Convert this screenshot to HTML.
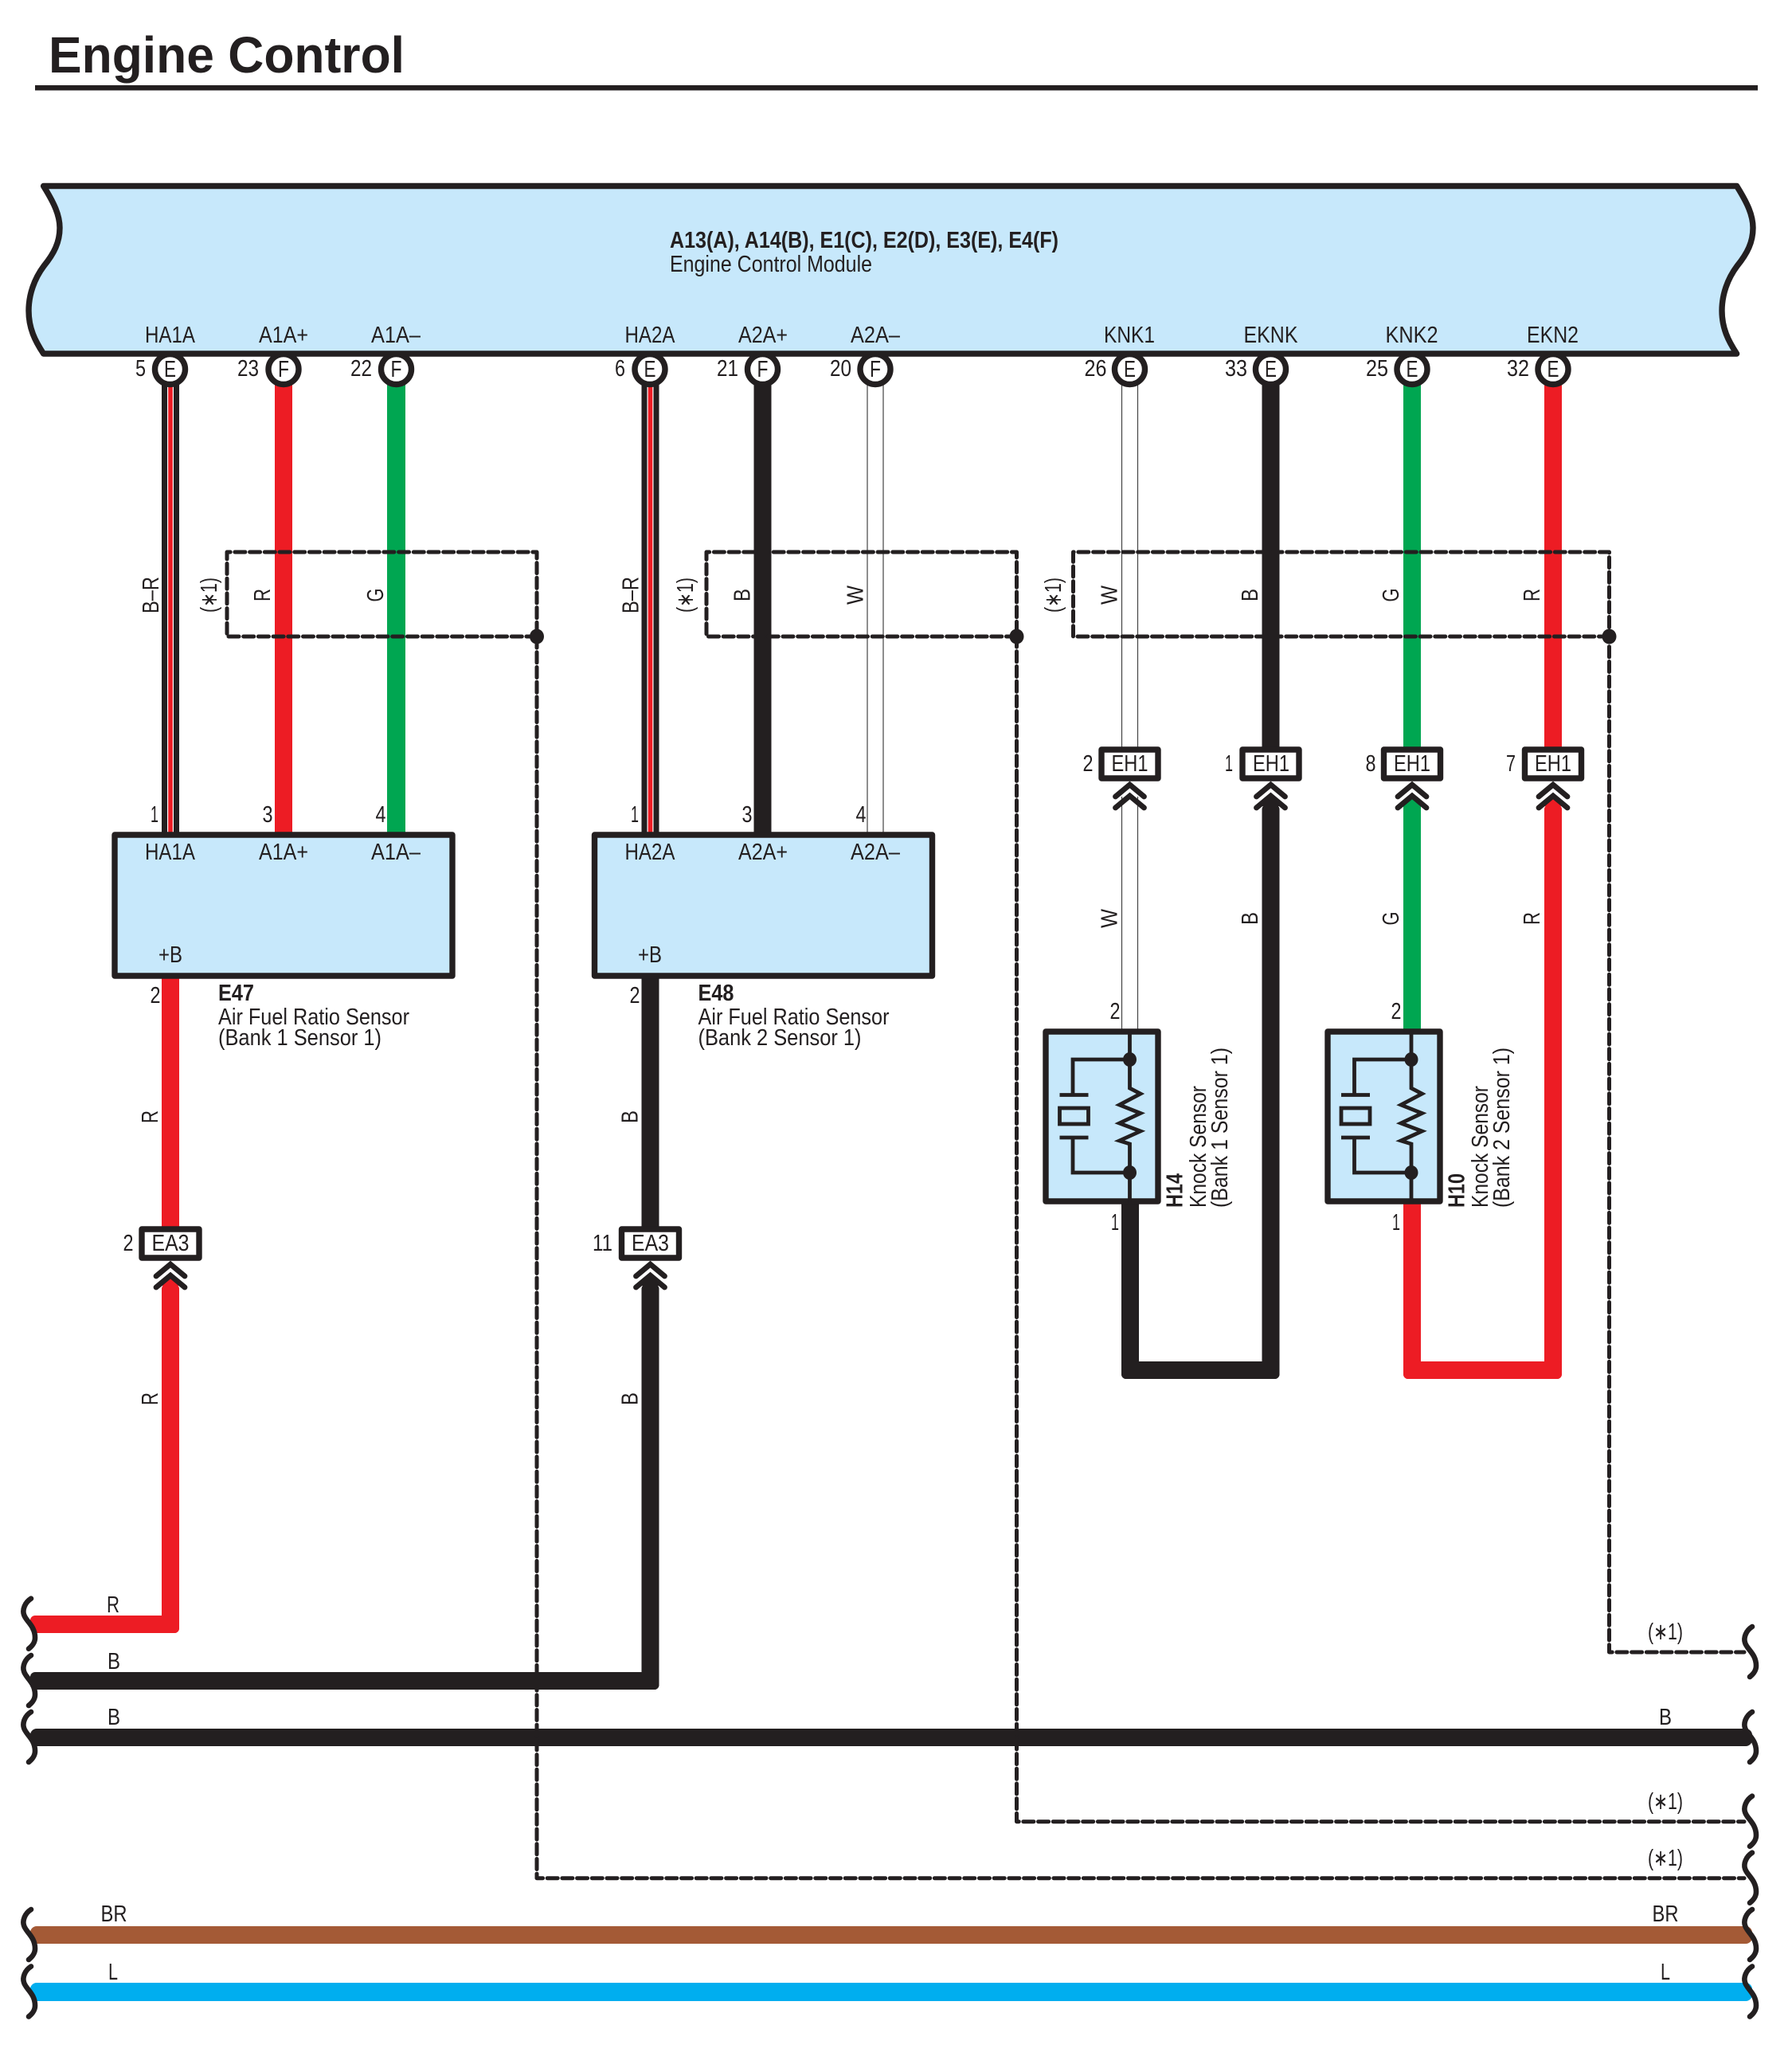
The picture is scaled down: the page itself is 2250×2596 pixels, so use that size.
<!DOCTYPE html>
<html><head><meta charset="utf-8"><title>Engine Control</title>
<style>
html,body{margin:0;padding:0;background:#fff}
svg{display:block}
text{font-family:"Liberation Sans",sans-serif;font-size:29px;fill:#231f20}
.b{font-weight:bold}
.m{text-anchor:middle}
.e{text-anchor:end}
.d{fill:none;stroke:#231f20;stroke-width:5;stroke-dasharray:13 5.7;stroke-linecap:round;stroke-linejoin:round}
.s{fill:none;stroke:#231f20;stroke-width:6.6;stroke-linecap:round}
.w{fill:none;stroke:#444;stroke-width:1.2}
.i{fill:none;stroke:#231f20;stroke-width:4.8}
.c{fill:#fff;stroke:#231f20;stroke-width:7.4}
.x{fill:#fff;stroke:#231f20;stroke-width:7.4;stroke-linejoin:round}
.h{fill:none;stroke:#231f20;stroke-width:6.8;stroke-linejoin:miter;stroke-linecap:round}
.bx{fill:#c7e8fb;stroke:#231f20;stroke-width:7.4;stroke-linejoin:round}
</style></head><body>
<svg xmlns="http://www.w3.org/2000/svg" width="2250" height="2596" viewBox="0 0 2250 2596">
<defs>
<path id="sq" class="s" d="M39,-32 C31,-27 28,-18 30,-12 C32,-4 44,2 44,17 C44,23 41,27 36,31"/>
<g id="chev"><path class="h" d="M-18,20 L0,5 L18,20"/><path class="h" d="M-18,34 L0,19 L18,34"/></g>
<g id="knock">
<path class="i" d="M0,1292 V1366 L13.5,1373 L-13,1387 L13.5,1397.5 L-13,1410 L13.5,1420 L-13,1432 L0,1436 V1511"/>
<path class="i" d="M0,1330 H-71.5 V1374.5 M-88,1374.5 H-52 M-71.5,1428 V1472 H0 M-88,1428 H-52"/>
<rect class="i" x="-88" y="1391" width="36" height="20"/>
<ellipse cx="0" cy="1330" rx="8.5" ry="9" fill="#231f20"/>
<ellipse cx="0" cy="1472" rx="8.5" ry="9" fill="#231f20"/>
</g>
</defs>

<!-- Title -->
<text class="b" x="61" y="91" style="font-size:64px" textLength="447" lengthAdjust="spacingAndGlyphs">Engine Control</text>
<rect x="44" y="107" width="2163" height="6.5" fill="#231f20"/>

<!-- Upper wires -->
<rect x="203" y="470" width="22" height="576" fill="#231f20"/>
<rect x="210" y="470" width="8" height="576" fill="#fff"/>
<rect x="211.2" y="470" width="5.6" height="576" fill="#ed1c24"/>
<rect x="345" y="470" width="22" height="576" fill="#ed1c24"/>
<rect x="486" y="470" width="23" height="576" fill="#00a651"/>

<rect x="805.5" y="470" width="22" height="576" fill="#231f20"/>
<rect x="812.5" y="470" width="8" height="576" fill="#fff"/>
<rect x="813.7" y="470" width="5.6" height="576" fill="#ed1c24"/>
<rect x="946.5" y="470" width="22" height="576" fill="#231f20"/>
<path class="w" d="M1089,480 V1046 M1109,480 V1046"/>

<path class="w" d="M1408.5,480 V940 M1428.5,480 V940"/>
<rect x="1584.5" y="470" width="22" height="470" fill="#231f20"/>
<rect x="1762" y="470" width="22" height="470" fill="#00a651"/>
<rect x="1939" y="470" width="22" height="470" fill="#ed1c24"/>

<!-- Mid wires H14/H10 -->
<path class="w" d="M1408.5,1000 V1294 M1428.5,1000 V1294"/>
<rect x="1762" y="1010" width="22" height="285" fill="#00a651"/>
<polygon points="1762,1012 1773,999 1784,1012" fill="#00a651"/>
<rect x="1584.5" y="1010" width="22" height="721" rx="6" fill="#231f20"/>
<polygon points="1584.5,1012 1595.5,999 1606.5,1012" fill="#231f20"/>
<rect x="1939" y="1010" width="22" height="721" rx="6" fill="#ed1c24"/>
<polygon points="1939,1012 1950,999 1961,1012" fill="#ed1c24"/>
<rect x="1408" y="1505" width="22" height="226" rx="6" fill="#231f20"/>
<rect x="1408" y="1709" width="198.5" height="22" rx="6" fill="#231f20"/>
<rect x="1762" y="1505" width="22" height="226" rx="6" fill="#ed1c24"/>
<rect x="1762" y="1709" width="199" height="22" rx="6" fill="#ed1c24"/>

<!-- Lower wires E47 / E48 -->
<rect x="203" y="1225" width="22" height="318" fill="#ed1c24"/>
<rect x="805.5" y="1225" width="22" height="318" fill="#231f20"/>
<rect x="203" y="1612" width="22" height="438" rx="6" fill="#ed1c24"/>
<polygon points="203,1614 214,1601 225,1614" fill="#ed1c24"/>
<rect x="38" y="2028" width="187" height="22" rx="6" fill="#ed1c24"/>
<rect x="805.5" y="1612" width="22" height="509" rx="6" fill="#231f20"/>
<polygon points="805.5,1614 816.5,1601 827.5,1614" fill="#231f20"/>
<rect x="38" y="2099" width="789.5" height="22" rx="6" fill="#231f20"/>
<rect x="38" y="2170" width="2162" height="22" rx="8" fill="#231f20"/>
<rect x="38" y="2418" width="2162" height="22" rx="8" fill="#a45a36"/>
<rect x="38" y="2489" width="2162" height="23" rx="8" fill="#00aeef"/>

<!-- Pin circles -->
<circle class="c" cx="213.5" cy="463.5" r="19"/>
<circle class="c" cx="356" cy="463.5" r="19"/>
<circle class="c" cx="497.5" cy="463.5" r="19"/>
<circle class="c" cx="816" cy="463.5" r="19"/>
<circle class="c" cx="957.5" cy="463.5" r="19"/>
<circle class="c" cx="1099" cy="463.5" r="19"/>
<circle class="c" cx="1418.5" cy="463.5" r="19"/>
<circle class="c" cx="1595.5" cy="463.5" r="19"/>
<circle class="c" cx="1773" cy="463.5" r="19"/>
<circle class="c" cx="1950" cy="463.5" r="19"/>

<!-- ECU box -->
<path class="bx" d="M54.6,233.5 C68,255 75,270 75,286 C75,304 68,318 55,334 C43,350 36,370 36,390 C36,412 44,428 54.6,444 L2180.6,444 C2170,428 2162,412 2162,390 C2162,370 2169,350 2181,334 C2194,318 2201,304 2201,286 C2201,270 2194,255 2180.6,233.5 Z"/>

<!-- Sensor boxes -->
<rect class="bx" x="144" y="1048" width="424" height="177"/>
<rect class="bx" x="746.5" y="1048" width="424" height="177"/>
<rect class="bx" x="1313" y="1295" width="141" height="213"/>
<rect class="bx" x="1667" y="1295" width="141" height="213"/>
<use href="#knock" x="1418.5"/>
<use href="#knock" x="1772"/>

<!-- Connectors -->
<rect class="x" x="178" y="1543" width="72" height="36"/>
<rect class="x" x="780.5" y="1543" width="72" height="36"/>
<rect class="x" x="1383" y="941" width="71" height="36"/>
<rect class="x" x="1560" y="941" width="71" height="36"/>
<rect class="x" x="1737.5" y="941" width="71" height="36"/>
<rect class="x" x="1914.5" y="941" width="71" height="36"/>
<use href="#chev" x="214" y="1582"/>
<use href="#chev" x="816.5" y="1582"/>
<use href="#chev" x="1418.5" y="980"/>
<use href="#chev" x="1595.5" y="980"/>
<use href="#chev" x="1773" y="980"/>
<use href="#chev" x="1950" y="980"/>

<!-- Dashed shields -->
<path class="d" d="M674,799 H285 V693 H674 V2357.7 H2190"/>
<path class="d" d="M1276.5,799 H887 V693 H1276.5 V2286.7 H2190"/>
<path class="d" d="M2020.5,799 H1347.5 V693 H2020.5 V2074 H2190"/>
<ellipse cx="674" cy="799" rx="9" ry="9.5" fill="#231f20"/>
<ellipse cx="1276.5" cy="799" rx="9" ry="9.5" fill="#231f20"/>
<ellipse cx="2020.5" cy="799" rx="9" ry="9.5" fill="#231f20"/>

<!-- Squiggles -->
<use href="#sq" x="0" y="2038.7"/>
<use href="#sq" x="0" y="2110"/>
<use href="#sq" x="0" y="2181"/>
<use href="#sq" x="0" y="2429"/>
<use href="#sq" x="0" y="2500.5"/>
<use href="#sq" x="2161" y="2074"/>
<use href="#sq" x="2161" y="2181"/>
<use href="#sq" x="2161" y="2286.7"/>
<use href="#sq" x="2161" y="2357.7"/>
<use href="#sq" x="2161" y="2429"/>
<use href="#sq" x="2161" y="2500.5"/>

<!-- ECU text -->
<text class="b" x="841" y="311" textLength="488" lengthAdjust="spacingAndGlyphs">A13(A), A14(B), E1(C), E2(D), E3(E), E4(F)</text>
<text x="841" y="341" textLength="254" lengthAdjust="spacingAndGlyphs">Engine Control Module</text>

<text class="m" x="213.5" y="430" textLength="63" lengthAdjust="spacingAndGlyphs">HA1A</text>
<text class="m" x="356" y="430" textLength="62" lengthAdjust="spacingAndGlyphs">A1A+</text>
<text class="m" x="497" y="430" textLength="62" lengthAdjust="spacingAndGlyphs">A1A–</text>
<text class="m" x="816" y="430" textLength="63" lengthAdjust="spacingAndGlyphs">HA2A</text>
<text class="m" x="958" y="430" textLength="62" lengthAdjust="spacingAndGlyphs">A2A+</text>
<text class="m" x="1099" y="430" textLength="62" lengthAdjust="spacingAndGlyphs">A2A–</text>
<text class="m" x="1418" y="430" textLength="64" lengthAdjust="spacingAndGlyphs">KNK1</text>
<text class="m" x="1595.5" y="430" textLength="68" lengthAdjust="spacingAndGlyphs">EKNK</text>
<text class="m" x="1772.5" y="430" textLength="66" lengthAdjust="spacingAndGlyphs">KNK2</text>
<text class="m" x="1949.5" y="430" textLength="65" lengthAdjust="spacingAndGlyphs">EKN2</text>

<!-- Pin numbers & letters -->
<text class="e" x="183" y="472" textLength="13" lengthAdjust="spacingAndGlyphs">5</text>
<text class="e" x="325" y="472" textLength="27" lengthAdjust="spacingAndGlyphs">23</text>
<text class="e" x="467" y="472" textLength="27" lengthAdjust="spacingAndGlyphs">22</text>
<text class="e" x="785" y="472" textLength="13" lengthAdjust="spacingAndGlyphs">6</text>
<text class="e" x="927" y="472" textLength="27" lengthAdjust="spacingAndGlyphs">21</text>
<text class="e" x="1069" y="472" textLength="27" lengthAdjust="spacingAndGlyphs">20</text>
<text class="e" x="1389.5" y="472" textLength="28" lengthAdjust="spacingAndGlyphs">26</text>
<text class="e" x="1566" y="472" textLength="28" lengthAdjust="spacingAndGlyphs">33</text>
<text class="e" x="1743" y="472" textLength="28" lengthAdjust="spacingAndGlyphs">25</text>
<text class="e" x="1920" y="472" textLength="28" lengthAdjust="spacingAndGlyphs">32</text>

<text class="m" x="213.5" y="473" textLength="15" lengthAdjust="spacingAndGlyphs">E</text>
<text class="m" x="356" y="473" textLength="14" lengthAdjust="spacingAndGlyphs">F</text>
<text class="m" x="497.5" y="473" textLength="14" lengthAdjust="spacingAndGlyphs">F</text>
<text class="m" x="816" y="473" textLength="15" lengthAdjust="spacingAndGlyphs">E</text>
<text class="m" x="957.5" y="473" textLength="14" lengthAdjust="spacingAndGlyphs">F</text>
<text class="m" x="1099" y="473" textLength="14" lengthAdjust="spacingAndGlyphs">F</text>
<text class="m" x="1418.5" y="473" textLength="15" lengthAdjust="spacingAndGlyphs">E</text>
<text class="m" x="1595.5" y="473" textLength="15" lengthAdjust="spacingAndGlyphs">E</text>
<text class="m" x="1773" y="473" textLength="15" lengthAdjust="spacingAndGlyphs">E</text>
<text class="m" x="1950" y="473" textLength="15" lengthAdjust="spacingAndGlyphs">E</text>

<!-- Rotated wire labels row 1 -->
<text class="m" transform="translate(199,747) rotate(-90)" textLength="46" lengthAdjust="spacingAndGlyphs">B–R</text>
<text class="m" transform="translate(272,747) rotate(-90)" textLength="44" lengthAdjust="spacingAndGlyphs">(∗1)</text>
<text class="m" transform="translate(339,747) rotate(-90)" textLength="16" lengthAdjust="spacingAndGlyphs">R</text>
<text class="m" transform="translate(481,747) rotate(-90)" textLength="17" lengthAdjust="spacingAndGlyphs">G</text>
<text class="m" transform="translate(801.5,747) rotate(-90)" textLength="46" lengthAdjust="spacingAndGlyphs">B–R</text>
<text class="m" transform="translate(870,747) rotate(-90)" textLength="44" lengthAdjust="spacingAndGlyphs">(∗1)</text>
<text class="m" transform="translate(941.5,747) rotate(-90)" textLength="16" lengthAdjust="spacingAndGlyphs">B</text>
<text class="m" transform="translate(1083.5,747) rotate(-90)" textLength="24" lengthAdjust="spacingAndGlyphs">W</text>
<text class="m" transform="translate(1332,747) rotate(-90)" textLength="44" lengthAdjust="spacingAndGlyphs">(∗1)</text>
<text class="m" transform="translate(1402.5,747) rotate(-90)" textLength="24" lengthAdjust="spacingAndGlyphs">W</text>
<text class="m" transform="translate(1579,747) rotate(-90)" textLength="16" lengthAdjust="spacingAndGlyphs">B</text>
<text class="m" transform="translate(1756,747) rotate(-90)" textLength="17" lengthAdjust="spacingAndGlyphs">G</text>
<text class="m" transform="translate(1933,747) rotate(-90)" textLength="16" lengthAdjust="spacingAndGlyphs">R</text>

<!-- Rotated wire labels row 2 -->
<text class="m" transform="translate(1402.5,1153) rotate(-90)" textLength="24" lengthAdjust="spacingAndGlyphs">W</text>
<text class="m" transform="translate(1579,1153) rotate(-90)" textLength="16" lengthAdjust="spacingAndGlyphs">B</text>
<text class="m" transform="translate(1756,1153) rotate(-90)" textLength="17" lengthAdjust="spacingAndGlyphs">G</text>
<text class="m" transform="translate(1933,1153) rotate(-90)" textLength="16" lengthAdjust="spacingAndGlyphs">R</text>
<text class="m" transform="translate(198,1402) rotate(-90)" textLength="16" lengthAdjust="spacingAndGlyphs">R</text>
<text class="m" transform="translate(800.5,1402) rotate(-90)" textLength="16" lengthAdjust="spacingAndGlyphs">B</text>
<text class="m" transform="translate(198,1756) rotate(-90)" textLength="16" lengthAdjust="spacingAndGlyphs">R</text>
<text class="m" transform="translate(800.5,1756) rotate(-90)" textLength="16" lengthAdjust="spacingAndGlyphs">B</text>

<!-- Sensor box labels -->
<text class="m" x="213.5" y="1079" textLength="63" lengthAdjust="spacingAndGlyphs">HA1A</text>
<text class="m" x="356" y="1079" textLength="62" lengthAdjust="spacingAndGlyphs">A1A+</text>
<text class="m" x="497" y="1079" textLength="62" lengthAdjust="spacingAndGlyphs">A1A–</text>
<text class="m" x="214" y="1208" textLength="30" lengthAdjust="spacingAndGlyphs">+B</text>
<text class="m" x="816" y="1079" textLength="63" lengthAdjust="spacingAndGlyphs">HA2A</text>
<text class="m" x="958" y="1079" textLength="62" lengthAdjust="spacingAndGlyphs">A2A+</text>
<text class="m" x="1099" y="1079" textLength="62" lengthAdjust="spacingAndGlyphs">A2A–</text>
<text class="m" x="816" y="1208" textLength="30" lengthAdjust="spacingAndGlyphs">+B</text>

<text class="m" x="194" y="1032" textLength="10" lengthAdjust="spacingAndGlyphs">1</text>
<text class="m" x="336" y="1032" textLength="13" lengthAdjust="spacingAndGlyphs">3</text>
<text class="m" x="478" y="1032" textLength="13" lengthAdjust="spacingAndGlyphs">4</text>
<text class="m" x="195" y="1259" textLength="13" lengthAdjust="spacingAndGlyphs">2</text>
<text class="m" x="797" y="1032" textLength="10" lengthAdjust="spacingAndGlyphs">1</text>
<text class="m" x="938" y="1032" textLength="13" lengthAdjust="spacingAndGlyphs">3</text>
<text class="m" x="1081" y="1032" textLength="13" lengthAdjust="spacingAndGlyphs">4</text>
<text class="m" x="797" y="1259" textLength="13" lengthAdjust="spacingAndGlyphs">2</text>

<text class="b" x="274" y="1256" textLength="45" lengthAdjust="spacingAndGlyphs">E47</text>
<text x="274" y="1286" textLength="240" lengthAdjust="spacingAndGlyphs">Air Fuel Ratio Sensor</text>
<text x="274" y="1312" textLength="205" lengthAdjust="spacingAndGlyphs">(Bank 1 Sensor 1)</text>
<text class="b" x="876.5" y="1256" textLength="45" lengthAdjust="spacingAndGlyphs">E48</text>
<text x="876.5" y="1286" textLength="240" lengthAdjust="spacingAndGlyphs">Air Fuel Ratio Sensor</text>
<text x="876.5" y="1312" textLength="205" lengthAdjust="spacingAndGlyphs">(Bank 2 Sensor 1)</text>

<!-- Connector labels -->
<text class="m" x="214" y="1570" textLength="47" lengthAdjust="spacingAndGlyphs">EA3</text>
<text class="m" x="816.5" y="1570" textLength="47" lengthAdjust="spacingAndGlyphs">EA3</text>
<text class="m" x="161" y="1570" textLength="13" lengthAdjust="spacingAndGlyphs">2</text>
<text class="e" x="769" y="1570" textLength="25" lengthAdjust="spacingAndGlyphs">11</text>
<text class="m" x="1418.5" y="968" textLength="46" lengthAdjust="spacingAndGlyphs">EH1</text>
<text class="m" x="1596" y="968" textLength="46" lengthAdjust="spacingAndGlyphs">EH1</text>
<text class="m" x="1773" y="968" textLength="46" lengthAdjust="spacingAndGlyphs">EH1</text>
<text class="m" x="1950" y="968" textLength="46" lengthAdjust="spacingAndGlyphs">EH1</text>
<text class="m" x="1366" y="968" textLength="13" lengthAdjust="spacingAndGlyphs">2</text>
<text class="m" x="1543" y="968" textLength="10" lengthAdjust="spacingAndGlyphs">1</text>
<text class="m" x="1721" y="968" textLength="13" lengthAdjust="spacingAndGlyphs">8</text>
<text class="m" x="1897" y="968" textLength="12" lengthAdjust="spacingAndGlyphs">7</text>

<!-- Knock labels -->
<text class="m" x="1400" y="1279" textLength="13" lengthAdjust="spacingAndGlyphs">2</text>
<text class="m" x="1400" y="1544" textLength="10" lengthAdjust="spacingAndGlyphs">1</text>
<text class="m" x="1753" y="1279" textLength="13" lengthAdjust="spacingAndGlyphs">2</text>
<text class="m" x="1753" y="1544" textLength="10" lengthAdjust="spacingAndGlyphs">1</text>
<text class="b" transform="translate(1484.5,1516) rotate(-90)" textLength="43" lengthAdjust="spacingAndGlyphs">H14</text>
<text transform="translate(1514,1516) rotate(-90)" textLength="153" lengthAdjust="spacingAndGlyphs">Knock Sensor</text>
<text transform="translate(1541,1516) rotate(-90)" textLength="201" lengthAdjust="spacingAndGlyphs">(Bank 1 Sensor 1)</text>
<text class="b" transform="translate(1838.5,1516) rotate(-90)" textLength="43" lengthAdjust="spacingAndGlyphs">H10</text>
<text transform="translate(1868,1516) rotate(-90)" textLength="153" lengthAdjust="spacingAndGlyphs">Knock Sensor</text>
<text transform="translate(1895,1516) rotate(-90)" textLength="201" lengthAdjust="spacingAndGlyphs">(Bank 2 Sensor 1)</text>

<!-- Bus labels -->
<text class="m" x="142" y="2024" textLength="16" lengthAdjust="spacingAndGlyphs">R</text>
<text class="m" x="143" y="2095" textLength="16" lengthAdjust="spacingAndGlyphs">B</text>
<text class="m" x="143" y="2165" textLength="16" lengthAdjust="spacingAndGlyphs">B</text>
<text class="m" x="143" y="2412" textLength="33" lengthAdjust="spacingAndGlyphs">BR</text>
<text class="m" x="142" y="2485" textLength="12" lengthAdjust="spacingAndGlyphs">L</text>
<text class="m" x="2091" y="2058" textLength="44" lengthAdjust="spacingAndGlyphs">(∗1)</text>
<text class="m" x="2091" y="2165" textLength="16" lengthAdjust="spacingAndGlyphs">B</text>
<text class="m" x="2091" y="2271" textLength="44" lengthAdjust="spacingAndGlyphs">(∗1)</text>
<text class="m" x="2091" y="2342" textLength="44" lengthAdjust="spacingAndGlyphs">(∗1)</text>
<text class="m" x="2091" y="2412" textLength="33" lengthAdjust="spacingAndGlyphs">BR</text>
<text class="m" x="2091" y="2485" textLength="12" lengthAdjust="spacingAndGlyphs">L</text>
</svg>
</body></html>
